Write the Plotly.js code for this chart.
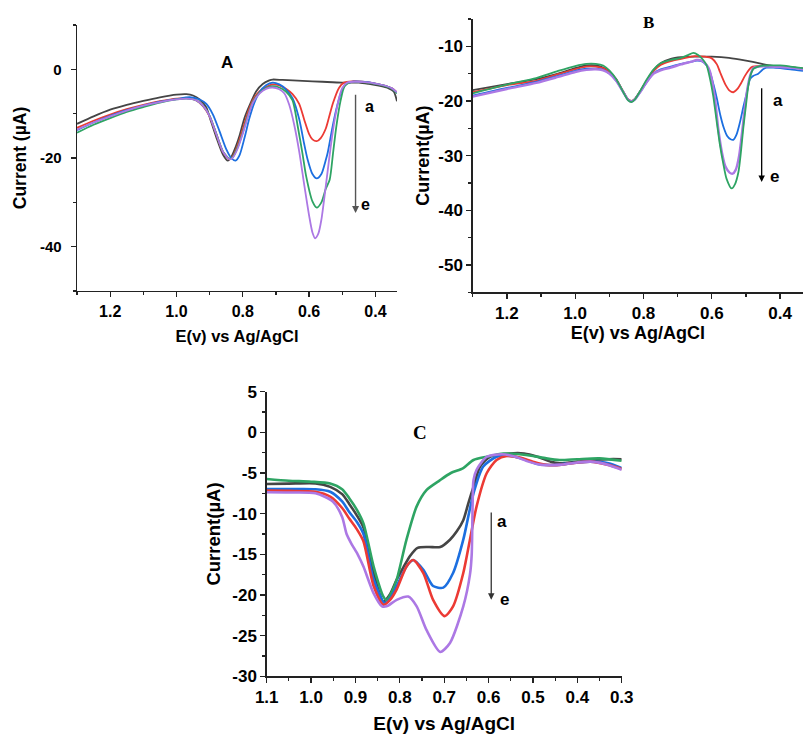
<!DOCTYPE html>
<html><head><meta charset="utf-8">
<script src="https://cdn.plot.ly/plotly-3.0.1.min.js"></script>
<style>html,body{margin:0;padding:0;background:#fff}#chart{width:803px;height:734px}</style>
</head><body><div id="chart"></div>
<script>
// ---------- Panel A ----------
const A_black_x = [1.30,1.25,1.20,1.15,1.10,1.05,1.00,0.97,0.95,0.93,0.91,0.90,0.88,0.86,0.845,0.835,0.82,0.81,0.795,0.78,0.76,0.74,0.72,0.71,0.68,0.62,0.56,0.50,0.45,0.42,0.39,0.36,0.345,0.335];
const A_black_y = [-12.3,-10.6,-9.1,-8.0,-7.1,-6.3,-5.7,-5.6,-5.9,-6.8,-8.6,-10.8,-15.3,-19.2,-20.6,-19.8,-17.2,-15.0,-11.0,-8.2,-5.0,-3.3,-2.5,-2.3,-2.4,-2.6,-2.8,-3.0,-3.0,-3.3,-3.7,-4.3,-5.0,-7.2];
const A_red_x = [1.30,1.25,1.20,1.15,1.10,1.05,1.00,0.97,0.94,0.92,0.90,0.88,0.86,0.84,0.83,0.815,0.80,0.785,0.77,0.75,0.73,0.71,0.69,0.67,0.65,0.63,0.615,0.60,0.59,0.577,0.565,0.55,0.54,0.528,0.51,0.495,0.47,0.44,0.40,0.37,0.35,0.335];
const A_red_y = [-13.2,-11.6,-10.2,-9.0,-8.0,-7.2,-6.6,-6.5,-7.0,-8.3,-10.6,-14.6,-18.6,-20.3,-19.6,-17.0,-13.5,-9.8,-7.0,-5.0,-4.0,-3.4,-3.6,-4.4,-5.6,-7.8,-11.3,-14.6,-15.8,-16.2,-15.5,-13.4,-10.8,-7.6,-4.2,-3.0,-2.7,-2.8,-3.2,-3.7,-4.3,-5.2];
const A_blue_x = [1.30,1.25,1.20,1.15,1.10,1.05,1.00,0.96,0.93,0.91,0.89,0.87,0.85,0.835,0.822,0.81,0.795,0.78,0.765,0.75,0.73,0.71,0.69,0.67,0.65,0.63,0.615,0.605,0.59,0.577,0.563,0.55,0.544,0.53,0.518,0.505,0.49,0.47,0.44,0.40,0.37,0.35,0.335];
const A_blue_y = [-13.7,-12.0,-10.5,-9.2,-8.2,-7.3,-6.7,-6.3,-6.8,-7.8,-10.2,-14.0,-18.0,-20.0,-20.6,-19.4,-15.5,-11.0,-7.5,-5.2,-3.6,-3.0,-3.4,-4.5,-6.5,-11.2,-16.8,-20.2,-23.6,-24.6,-23.6,-20.5,-18.8,-13.2,-9.0,-5.5,-3.4,-2.8,-2.8,-3.2,-3.7,-4.3,-5.3];
const A_green_x = [1.30,1.25,1.20,1.15,1.10,1.05,1.00,0.97,0.94,0.92,0.90,0.88,0.86,0.84,0.83,0.815,0.80,0.785,0.77,0.75,0.73,0.71,0.69,0.67,0.65,0.634,0.62,0.609,0.59,0.577,0.563,0.55,0.538,0.528,0.518,0.505,0.493,0.475,0.44,0.40,0.37,0.35,0.335];
const A_green_y = [-14.3,-12.5,-11.0,-9.6,-8.5,-7.5,-6.8,-6.6,-7.0,-8.2,-10.5,-14.5,-18.5,-20.2,-19.8,-17.5,-14.2,-10.5,-7.4,-5.3,-4.2,-3.8,-4.1,-5.0,-7.0,-13.0,-19.0,-24.1,-29.8,-31.2,-30.0,-27.0,-24.9,-19.0,-12.9,-7.0,-3.8,-2.9,-2.9,-3.3,-3.8,-4.4,-5.4];
const A_purple_x = [1.30,1.25,1.20,1.15,1.10,1.05,1.00,0.97,0.94,0.92,0.90,0.88,0.86,0.84,0.83,0.815,0.80,0.785,0.77,0.75,0.73,0.71,0.69,0.675,0.66,0.645,0.63,0.614,0.60,0.59,0.582,0.572,0.563,0.55,0.535,0.523,0.51,0.50,0.485,0.46,0.43,0.40,0.37,0.35,0.335];
const A_purple_y = [-13.6,-12.0,-10.6,-9.3,-8.2,-7.4,-6.8,-6.6,-7.0,-8.2,-10.6,-14.6,-18.6,-20.3,-19.9,-17.8,-14.5,-10.8,-7.6,-5.5,-4.4,-4.1,-4.5,-5.4,-8.0,-12.5,-18.5,-26.4,-33.0,-36.8,-38.1,-37.0,-33.9,-26.5,-17.5,-11.4,-6.5,-4.2,-3.0,-2.8,-2.9,-3.2,-3.7,-4.3,-5.2];
const A_xticks = [1.2,1.0,0.8,0.6,0.4];
const A_xlabels = ['1.2','1.0','0.8','0.6','0.4'];
const A_yticks = [0,-20,-40];
const A_ylabels = ['0','-20','-40'];

// ---------- Panel B ----------
const B_black_x = [1.30,1.25,1.20,1.15,1.10,1.05,1.00,0.967,0.94,0.918,0.90,0.88,0.86,0.845,0.835,0.825,0.81,0.79,0.77,0.75,0.72,0.69,0.65,0.60,0.55,0.50,0.46,0.44,0.42,0.40,0.37,0.333];
const B_black_y = [-18.0,-17.45,-16.9,-16.4,-15.8,-15.0,-14.0,-13.5,-13.5,-13.9,-14.6,-16.0,-18.2,-19.7,-20.0,-19.6,-18.2,-16.2,-14.3,-13.1,-12.3,-12.0,-11.9,-11.9,-12.1,-12.6,-13.1,-13.4,-13.6,-13.7,-13.8,-14.1];
const B_red_x = [1.30,1.20,1.114,1.05,1.00,0.967,0.94,0.918,0.90,0.88,0.86,0.845,0.835,0.825,0.81,0.79,0.77,0.75,0.72,0.69,0.65,0.62,0.60,0.585,0.576,0.56,0.548,0.537,0.525,0.513,0.503,0.49,0.483,0.46,0.43,0.40,0.37,0.333];
const B_red_y = [-18.4,-17.1,-16.3,-15.1,-14.2,-13.7,-13.7,-14.0,-14.7,-16.1,-18.2,-19.7,-20.0,-19.6,-18.3,-16.3,-14.5,-13.4,-12.7,-12.3,-11.8,-11.9,-12.2,-13.3,-14.7,-17.0,-18.1,-18.4,-17.8,-16.6,-15.4,-14.2,-13.8,-13.6,-13.6,-13.7,-13.8,-14.1];
const B_blue_x = [1.30,1.20,1.114,1.05,1.00,0.967,0.94,0.918,0.90,0.88,0.86,0.845,0.835,0.825,0.81,0.79,0.77,0.75,0.72,0.69,0.66,0.644,0.63,0.615,0.605,0.595,0.585,0.575,0.565,0.555,0.545,0.537,0.528,0.518,0.508,0.498,0.488,0.478,0.464,0.45,0.44,0.42,0.40,0.37,0.333];
const B_blue_y = [-19.0,-17.6,-16.5,-15.4,-14.5,-14.1,-14.1,-14.3,-15.0,-16.3,-18.3,-19.8,-20.1,-19.7,-18.4,-16.5,-14.9,-14.2,-13.7,-13.2,-12.8,-12.6,-12.7,-13.5,-14.8,-17.0,-19.6,-22.6,-24.9,-26.4,-27.0,-27.1,-26.2,-24.0,-21.2,-18.6,-16.0,-15.4,-15.0,-14.2,-13.9,-13.9,-14.0,-14.2,-14.5];
const B_green_x = [1.30,1.20,1.114,1.05,1.00,0.967,0.94,0.918,0.90,0.88,0.86,0.845,0.835,0.825,0.81,0.79,0.77,0.75,0.72,0.69,0.67,0.654,0.64,0.625,0.615,0.605,0.596,0.586,0.576,0.566,0.557,0.542,0.532,0.522,0.515,0.508,0.50,0.493,0.485,0.478,0.46,0.43,0.40,0.37,0.333];
const B_green_y = [-18.6,-17.0,-15.8,-14.5,-13.6,-13.2,-13.2,-13.5,-14.4,-16.0,-18.3,-19.9,-20.2,-19.7,-18.2,-16.0,-14.2,-13.1,-12.5,-12.1,-11.6,-11.2,-11.6,-12.5,-13.5,-16.0,-19.0,-23.6,-28.1,-31.6,-34.2,-36.0,-35.2,-33.0,-29.5,-25.1,-20.8,-17.2,-15.0,-14.1,-13.6,-13.5,-13.5,-13.7,-14.0];
const B_purple_x = [1.30,1.20,1.114,1.05,1.00,0.967,0.94,0.918,0.90,0.88,0.86,0.845,0.835,0.825,0.81,0.79,0.77,0.75,0.72,0.69,0.66,0.644,0.63,0.615,0.607,0.60,0.59,0.581,0.57,0.56,0.548,0.539,0.53,0.52,0.508,0.498,0.488,0.478,0.46,0.43,0.40,0.37,0.333];
const B_purple_y = [-19.2,-17.8,-16.7,-15.6,-14.7,-14.3,-14.2,-14.4,-15.0,-16.3,-18.3,-19.8,-20.1,-19.7,-18.4,-16.5,-15.0,-14.4,-13.9,-13.3,-12.8,-12.5,-12.6,-13.4,-14.3,-16.0,-20.0,-25.1,-29.5,-32.0,-33.1,-33.3,-32.6,-30.0,-23.9,-18.6,-15.4,-14.0,-13.7,-13.7,-13.8,-13.9,-14.2];
const B_xticks = [1.2,1.0,0.8,0.6,0.4];
const B_xlabels = ['1.2','1.0','0.8','0.6','0.4'];
const B_yticks = [-10,-20,-30,-40,-50];
const B_ylabels = ['-10','-20','-30','-40','-50'];

// ---------- Panel C ----------
const C_black_x = [1.10,1.05,0.99,0.957,0.93,0.914,0.897,0.882,0.859,0.837,0.822,0.807,0.792,0.777,0.76,0.735,0.709,0.687,0.672,0.657,0.645,0.634,0.619,0.597,0.552,0.52,0.49,0.46,0.44,0.40,0.37,0.33,0.30];
const C_black_y = [-6.35,-6.3,-6.27,-6.7,-7.6,-8.8,-10.2,-11.7,-17.3,-20.8,-19.9,-18.1,-16.6,-15.2,-14.2,-14.1,-14.1,-13.2,-12.2,-10.8,-8.6,-6.7,-4.2,-3.0,-2.6,-2.6,-3.0,-3.6,-3.8,-3.6,-3.4,-3.3,-3.3];
const C_red_x = [1.10,1.05,0.99,0.957,0.93,0.914,0.897,0.882,0.859,0.837,0.822,0.807,0.785,0.77,0.747,0.725,0.699,0.68,0.657,0.642,0.627,0.604,0.582,0.559,0.53,0.50,0.47,0.44,0.40,0.37,0.33,0.30];
const C_red_y = [-7.17,-7.2,-7.3,-7.9,-9.3,-10.6,-11.9,-13.4,-18.9,-21.2,-20.6,-19.3,-16.5,-15.7,-17.3,-20.6,-22.6,-21.4,-17.3,-13.2,-9.1,-5.0,-3.4,-2.9,-3.1,-3.6,-4.0,-4.0,-3.7,-3.6,-4.0,-4.5];
const C_blue_x = [1.10,1.05,0.99,0.957,0.93,0.914,0.897,0.882,0.859,0.834,0.82,0.807,0.785,0.77,0.747,0.725,0.702,0.68,0.657,0.634,0.612,0.582,0.55,0.52,0.49,0.45,0.40,0.37,0.33,0.30];
const C_blue_y = [-6.97,-6.98,-7.0,-7.3,-8.5,-9.8,-11.0,-12.5,-18.1,-21.0,-20.3,-18.9,-16.5,-15.7,-16.9,-18.9,-19.1,-17.3,-13.2,-7.5,-4.2,-3.0,-2.9,-3.3,-3.9,-4.0,-3.7,-3.6,-3.8,-4.4];
const C_green_x = [1.10,1.05,1.00,0.957,0.93,0.914,0.897,0.882,0.859,0.837,0.830,0.818,0.807,0.785,0.762,0.740,0.710,0.685,0.657,0.634,0.604,0.567,0.53,0.50,0.47,0.44,0.40,0.35,0.30];
const C_green_y = [-5.74,-5.95,-6.07,-6.3,-7.0,-8.1,-9.5,-11.2,-16.5,-20.2,-20.6,-19.6,-18.1,-13.2,-9.1,-7.1,-5.9,-5.0,-4.4,-3.4,-3.0,-2.6,-2.7,-2.9,-3.2,-3.4,-3.3,-3.2,-3.5];
const C_purple_x = [1.10,1.05,0.99,0.951,0.93,0.92,0.909,0.895,0.882,0.859,0.84,0.83,0.807,0.781,0.762,0.740,0.709,0.687,0.657,0.642,0.638,0.636,0.634,0.627,0.604,0.57,0.54,0.51,0.48,0.44,0.40,0.37,0.33,0.30];
const C_purple_y = [-7.37,-7.4,-7.5,-8.5,-10.4,-12.5,-13.7,-15.0,-16.5,-19.8,-21.4,-21.4,-20.6,-20.2,-21.4,-24.3,-27.0,-25.9,-21.4,-17.5,-15.0,-9.0,-5.9,-4.6,-3.0,-2.7,-3.0,-3.6,-4.0,-4.0,-3.7,-3.6,-4.0,-4.6];
const C_xticks = [1.1,1.0,0.9,0.8,0.7,0.6,0.5,0.4,0.3];
const C_xlabels = ['1.1','1.0','0.9','0.8','0.7','0.6','0.5','0.4','0.3'];
const C_yticks = [5,0,-5,-10,-15,-20,-25,-30];
const C_ylabels = ['5','0','-5','-10','-15','-20','-25','-30'];

const seriesNames = ['a','b','c','d','e'];
const colors = {black:'#454545', red:'#ec3a34', blue:'#1c6fe0', green:'#2ea463', purple:'#ac78e4'};

const FONT = 'Liberation Sans, Arial, sans-serif';
const traces = [];
function add(x, y, col, xa, ya, w){
  traces.push({x:x, y:y, type:'scatter', mode:'lines', xaxis:xa, yaxis:ya,
    line:{color:col, width:w, shape:'spline', smoothing:0.7}, showlegend:false, hoverinfo:'skip'});
}
add(A_black_x,A_black_y,colors.black,'x','y',1.8);
add(A_red_x,A_red_y,colors.red,'x','y',1.8);
add(A_blue_x,A_blue_y,colors.blue,'x','y',1.8);
add(A_green_x,A_green_y,colors.green,'x','y',1.8);
add(A_purple_x,A_purple_y,colors.purple,'x','y',1.8);
add(B_black_x,B_black_y,colors.black,'x2','y2',1.8);
add(B_red_x,B_red_y,colors.red,'x2','y2',1.8);
add(B_blue_x,B_blue_y,colors.blue,'x2','y2',1.8);
add(B_purple_x,B_purple_y,colors.purple,'x2','y2',2.4);
add(B_green_x,B_green_y,colors.green,'x2','y2',1.8);
add(C_black_x,C_black_y,colors.black,'x3','y3',2.6);
add(C_green_x,C_green_y,colors.green,'x3','y3',2.6);
add(C_blue_x,C_blue_y,colors.blue,'x3','y3',2.6);
add(C_red_x,C_red_y,colors.red,'x3','y3',2.6);
add(C_purple_x,C_purple_y,colors.purple,'x3','y3',2.6);

function axis(o){
  return Object.assign({
    showline:true, linecolor:'#222', linewidth:1.4, mirror:false,
    ticks:'outside', ticklen:5, tickwidth:1.3, tickcolor:'#222',
    showgrid:false, zeroline:false, tickmode:'array', fixedrange:true,
    tickfont:{family:FONT, size:15, color:'#000', weight:'bold'},
  }, o);
}
const layout = {
  width:803, height:734, margin:{l:0,r:0,t:0,b:0},
  paper_bgcolor:'#fff', plot_bgcolor:'rgba(0,0,0,0)', showlegend:false,
  xaxis: axis({domain:[77/803,397/803], range:[1.30,0.335], anchor:'y',
    tickvals:A_xticks, ticktext:A_xlabels, tickfont:{family:FONT,size:16,color:'#000',weight:'bold'},
    minor:{tickmode:'linear', tick0:0, dtick:0.1, ticks:'outside', ticklen:3, tickcolor:'#222', tickwidth:1.2},
    title:{text:'E(v) vs Ag/AgCl', standoff:12, font:{family:FONT,size:16.5,color:'#000',weight:'bold'}}}),
  yaxis: axis({domain:[1-291/734,1-25/734], range:[-50,10], anchor:'x',
    tickvals:A_yticks, ticktext:A_ylabels, tickfont:{family:FONT,size:15,color:'#000',weight:'bold'}, ticklabelstandoff:6,
    minor:{tickmode:'linear', tick0:0, dtick:10, ticks:'outside', ticklen:3, tickcolor:'#222', tickwidth:1.2},
    title:{text:'Current (µA)', standoff:8, font:{family:FONT,size:17.5,color:'#000',weight:'bold'}}}),
  xaxis2: axis({domain:[472.7/803,1], range:[1.30,0.333], anchor:'y2',
    tickvals:B_xticks, ticktext:B_xlabels, tickfont:{family:FONT,size:17,color:'#000',weight:'bold'},
    minor:{tickmode:'linear', tick0:0, dtick:0.1, ticks:'outside', ticklen:3, tickcolor:'#222', tickwidth:1.2},
    title:{text:'E(v) vs Ag/AgCl', standoff:0, font:{family:FONT,size:18,color:'#000',weight:'bold'}}}),
  yaxis2: axis({domain:[1-292.3/734,1-19/734], range:[-55,-5], anchor:'x2',
    tickvals:B_yticks, ticktext:B_ylabels, tickfont:{family:FONT,size:17,color:'#000',weight:'bold'},
    minor:{tickmode:'linear', tick0:0, dtick:5, ticks:'outside', ticklen:3, tickcolor:'#222', tickwidth:1.2},
    title:{text:'Current(µA)', standoff:4, font:{family:FONT,size:18,color:'#000',weight:'bold'}}}),
  xaxis3: axis({domain:[266.7/803,621.7/803], range:[1.1,0.3], anchor:'y3',
    tickvals:C_xticks, ticktext:C_xlabels, tickfont:{family:FONT,size:17,color:'#000',weight:'bold'},
    minor:{tickmode:'linear', tick0:0, dtick:0.05, ticks:'outside', ticklen:3, tickcolor:'#222', tickwidth:1.2},
    title:{text:'E(v) vs Ag/AgCl', standoff:18, font:{family:FONT,size:19,color:'#000',weight:'bold'}}}),
  yaxis3: axis({domain:[1-676.3/734,1-391.7/734], range:[-30,5], anchor:'x3',
    tickvals:C_yticks, ticktext:C_ylabels, tickfont:{family:FONT,size:17,color:'#000',weight:'bold'},
    minor:{tickmode:'linear', tick0:0, dtick:2.5, ticks:'outside', ticklen:3, tickcolor:'#222', tickwidth:1.2},
    title:{text:'Current(µA)', standoff:7, font:{family:FONT,size:18.5,color:'#000',weight:'bold'}}}),
  annotations: [
    {xref:'paper', yref:'paper', xanchor:'center', yanchor:'middle', x:227/803, y:1-62/734, text:'A', showarrow:false, font:{family:FONT,size:17,color:'#000',weight:'bold'}},
    {xref:'paper', yref:'paper', xanchor:'center', yanchor:'middle', x:648/803, y:1-22/734, text:'B', showarrow:false, font:{family:'Liberation Serif, Times New Roman, serif',size:17,color:'#000',weight:'bold'}},
    {xref:'paper', yref:'paper', xanchor:'center', yanchor:'middle', x:420/803, y:1-432/734, text:'C', showarrow:false, font:{family:'Liberation Serif, Times New Roman, serif',size:19,color:'#000',weight:'bold'}},
    // arrows a -> e
    {xref:'x', yref:'y', axref:'x', ayref:'y', x:0.460, y:-32.4, ax:0.460, ay:-5.4, text:'', showarrow:true, arrowhead:2, arrowsize:1, arrowwidth:1.4, arrowcolor:'#555'},
    {xref:'x', yref:'y', xanchor:'center', yanchor:'middle', x:0.418, y:-8.4, text:seriesNames[0], showarrow:false, font:{family:FONT,size:16,color:'#000',weight:'bold'}},
    {xref:'x', yref:'y', xanchor:'center', yanchor:'middle', x:0.431, y:-30.6, text:seriesNames[4], showarrow:false, font:{family:FONT,size:16,color:'#000',weight:'bold'}},
    {xref:'x2', yref:'y2', axref:'x2', ayref:'y2', x:0.454, y:-34.8, ax:0.454, ay:-17.4, text:'', showarrow:true, arrowhead:2, arrowsize:1, arrowwidth:1.3, arrowcolor:'#000'},
    {xref:'x2', yref:'y2', xanchor:'center', yanchor:'middle', x:0.407, y:-19.9, text:seriesNames[0], showarrow:false, font:{family:FONT,size:17,color:'#000',weight:'bold'}},
    {xref:'x2', yref:'y2', xanchor:'center', yanchor:'middle', x:0.415, y:-33.9, text:seriesNames[4], showarrow:false, font:{family:FONT,size:17,color:'#000',weight:'bold'}},
    {xref:'x3', yref:'y3', axref:'x3', ayref:'y3', x:0.594, y:-20.6, ax:0.594, ay:-9.67, text:'', showarrow:true, arrowhead:2, arrowsize:1, arrowwidth:1.3, arrowcolor:'#333'},
    {xref:'x3', yref:'y3', xanchor:'center', yanchor:'middle', x:0.570, y:-11.0, text:seriesNames[0], showarrow:false, font:{family:FONT,size:17,color:'#000',weight:'bold'}},
    {xref:'x3', yref:'y3', xanchor:'center', yanchor:'middle', x:0.563, y:-20.5, text:seriesNames[4], showarrow:false, font:{family:FONT,size:17,color:'#000',weight:'bold'}}
  ]
};
Plotly.newPlot('chart', traces, layout, {staticPlot:true, displayModeBar:false});
</script></body></html>
